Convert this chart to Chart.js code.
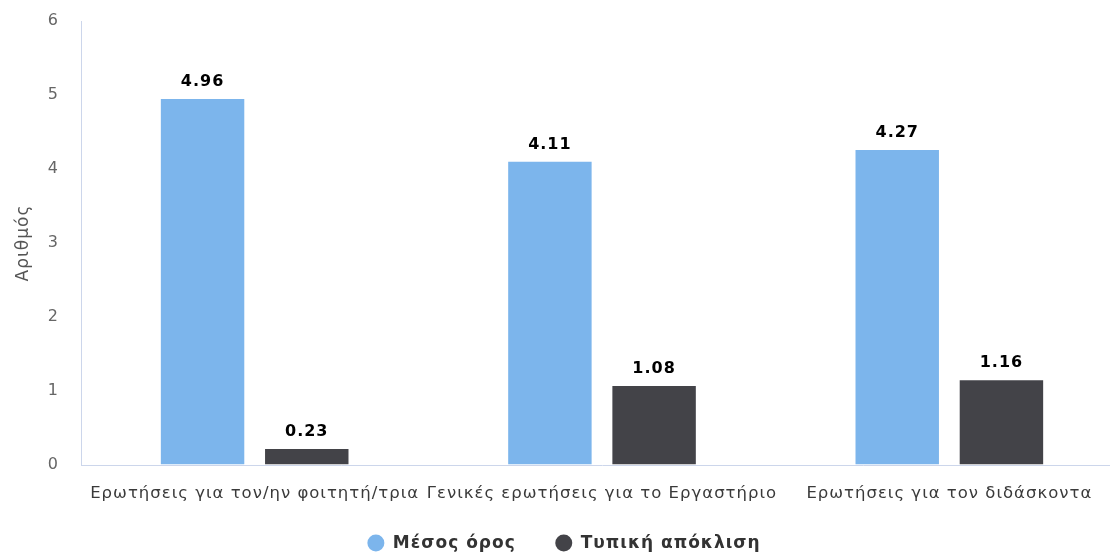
<!DOCTYPE html>
<html>
<head>
<meta charset="utf-8">
<script src="https://cdn.jsdelivr.net/npm/chart.js@4/dist/chart.umd.min.js"></script>
<style>
  html, body { margin: 0; padding: 0; background: #fff; overflow: hidden; }
  #wrap { width: 1123px; height: 554px; position: relative; }
</style>
</head>
<body>
<div id="wrap"><canvas id="chart"></canvas></div>
<script>
// Data
const categories = [
  "Ερωτήσεις για τον/ην φοιτητή/τρια",
  "Γενικές ερωτήσεις για το Εργαστήριο",
  "Ερωτήσεις για τον διδάσκοντα"
];
const meanValues = [4.96, 4.11, 4.27];
const stdValues = [0.23, 1.08, 1.16];
const yTicks = [0, 1, 2, 3, 4, 5, 6];

const FONT = "'DejaVu Sans', Verdana, sans-serif";

// The reference text is a bit wider than DejaVu, so add letter spacing
const spacing = {
  id: "spacing",
  beforeUpdate(chart) { chart.ctx.letterSpacing = "1px"; },
  beforeLayout(chart) { chart.ctx.letterSpacing = "1px"; },
  beforeDraw(chart) { chart.ctx.letterSpacing = "1px"; },
};

// Helper: draw value on top of each bar
const valueLabels = {
  id: "valueLabels",
  afterDatasetsDraw(chart) {
    const ctx = chart.ctx;
    ctx.save();
    ctx.font = "bold 16px " + FONT;
    ctx.textAlign = "center";
    ctx.textBaseline = "alphabetic";
    chart.data.datasets.forEach((ds, i) => {
      const meta = chart.getDatasetMeta(i);
      meta.data.forEach((bar, j) => {
        const txt = ds.data[j].toFixed(2);
        ctx.lineWidth = 3;
        ctx.strokeStyle = "#fff";
        ctx.strokeText(txt, bar.x, bar.y - 12);
        ctx.fillStyle = "#000";
        ctx.fillText(txt, bar.x, bar.y - 12);
      });
    });
    ctx.restore();
  }
};

// Legend drawn by hand so item spacing can match the reference
const bottomLegend = {
  id: "bottomLegend",
  afterDraw(chart) {
    const ctx = chart.ctx;
    ctx.save();
    ctx.font = "bold 17px " + FONT;
    ctx.textBaseline = "middle";
    ctx.textAlign = "left";
    const r = 8.5, gapText = 17, gapItem = 39.5;
    const items = chart.data.datasets.map((ds) => ({
      text: ds.label, color: ds.backgroundColor, w: ctx.measureText(ds.label).width
    }));
    let total = 0;
    items.forEach((it, i) => { total += r + gapText + it.w + (i ? gapItem : 0); });
    let x = (1110 - total) / 2 + 9;
    const y = 543;
    items.forEach((it, i) => {
      if (i) x += gapItem;
      ctx.beginPath();
      ctx.arc(x + r, y, r, 0, Math.PI * 2);
      ctx.fillStyle = it.color;
      ctx.fill();
      ctx.fillStyle = "#333";
      ctx.fillText(it.text, x + r + gapText, y + 1);
      x += r + gapText + it.w;
    });
    ctx.restore();
  }
};

new Chart(document.getElementById("chart"), {
  type: "bar",
  data: {
    labels: categories,
    datasets: [
      {
        label: "Μέσος όρος",
        data: meanValues,
        backgroundColor: "#7cb5ec",
        borderColor: "#ffffff",
        borderWidth: 1,
        categoryPercentage: 0.6,
        barPercentage: 0.82,
      },
      {
        label: "Τυπική απόκλιση",
        data: stdValues,
        backgroundColor: "#434348",
        borderColor: "#ffffff",
        borderWidth: 1,
        categoryPercentage: 0.6,
        barPercentage: 0.82,
      },
    ],
  },
  options: {
    responsive: true,
    maintainAspectRatio: false,
    animation: false,
    layout: { padding: { top: 21, right: 0, bottom: 0, left: 0 } },
    plugins: {
      tooltip: { enabled: false },
      legend: { display: false },
    },
    scales: {
      x: {
        grid: { display: false, drawTicks: false },
        border: { display: true, color: "#ccd6eb", width: 1 },
        ticks: {
          color: "#3a3a3a",
          padding: 19,
          maxRotation: 0,
          autoSkip: false,
          font: { family: FONT, size: 16.5 },
        },
        afterFit: (s) => { s.height = 89; },
      },
      y: {
        min: 0,
        max: 6,
        afterBuildTicks: (s) => { s.ticks = yTicks.map((v) => ({ value: v })); },
        grid: {
          drawOnChartArea: false,
          drawTicks: true,
          tickLength: 18,
          tickColor: "rgba(0,0,0,0)",
        },
        border: { display: true, color: "#ccd6eb", width: 1 },
        ticks: {
          color: "#666",
          padding: 4,
          font: { family: FONT, size: 16 },
        },
        title: {
          display: true,
          text: "Αριθμός",
          color: "#555",
          padding: { top: 13, bottom: 0 },
          font: { family: FONT, size: 17 },
        },
        afterFit: (s) => { s.width = 81; },
      },
    },
  },
  plugins: [spacing, valueLabels, bottomLegend],
});
</script>
</body>
</html>
